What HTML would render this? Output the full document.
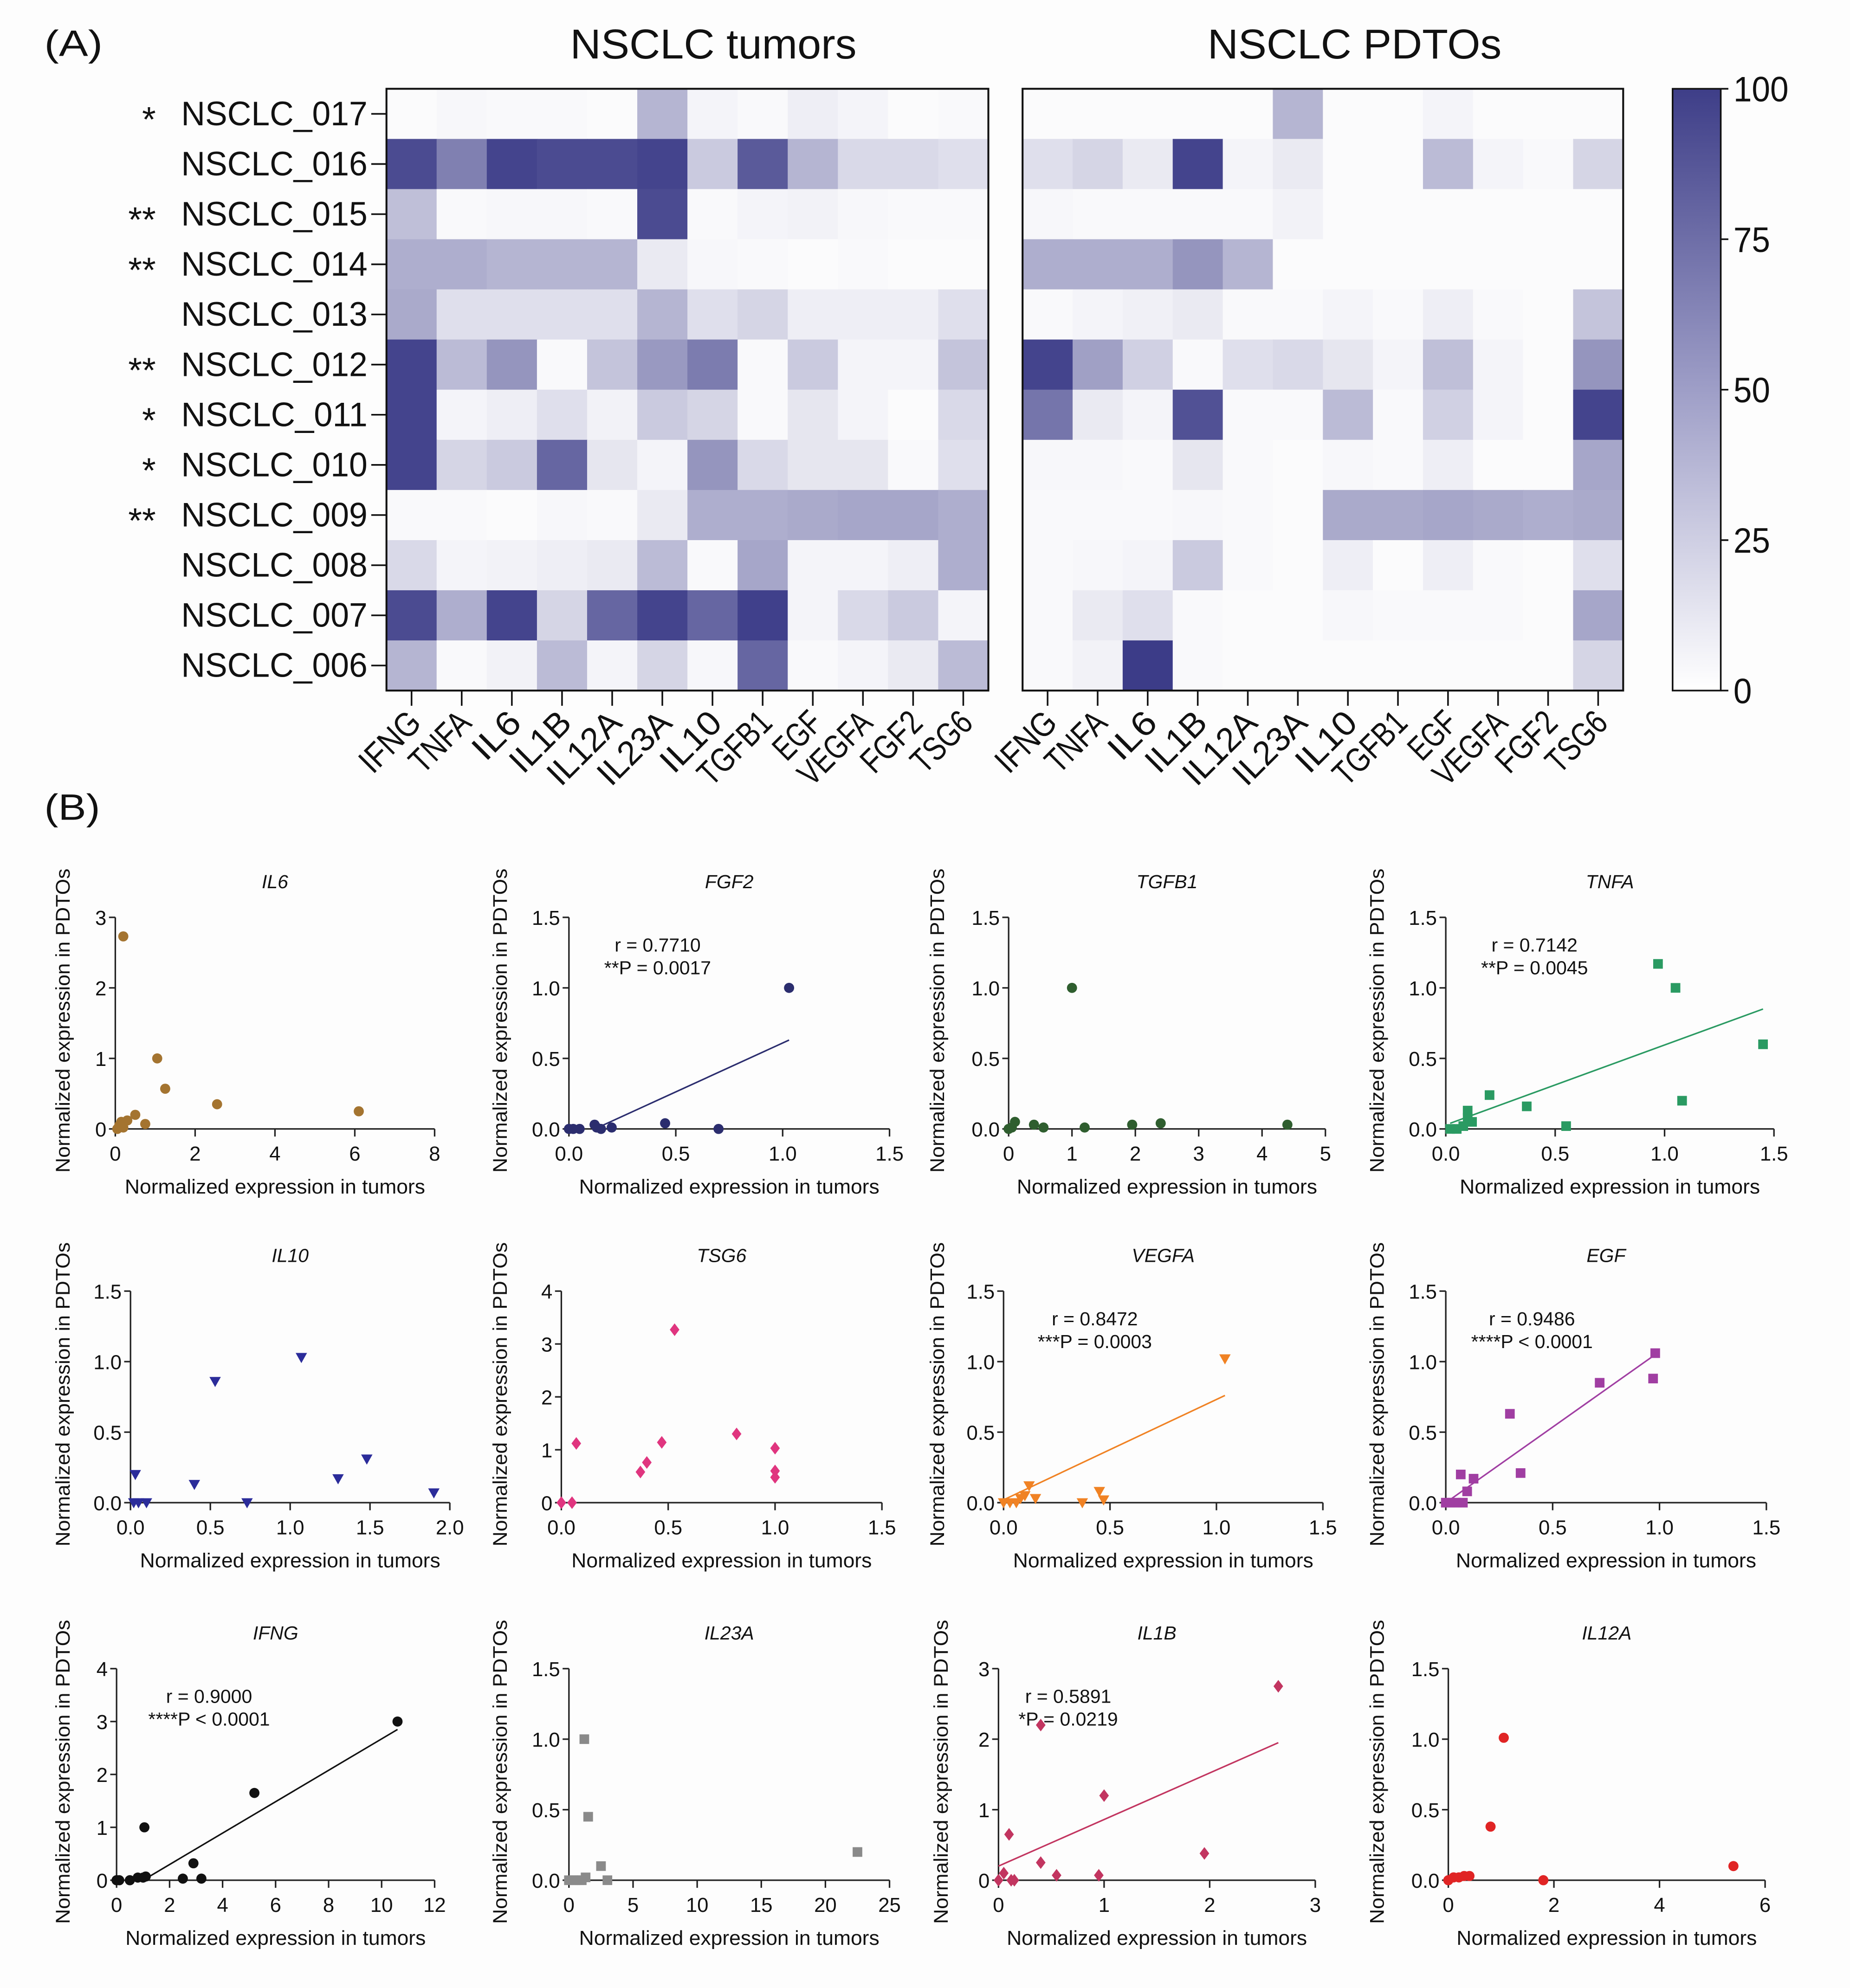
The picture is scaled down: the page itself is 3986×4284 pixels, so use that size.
<!DOCTYPE html>
<html><head><meta charset="utf-8">
<style>
html,body{margin:0;padding:0;background:#fff;}
svg{display:block;}
text{font-family:"Liberation Sans",sans-serif;fill:#111;}
</style></head>
<body>
<svg id="fig" xmlns="http://www.w3.org/2000/svg" width="3986" height="4284" viewBox="0 0 1460 1569">
<rect x="0" y="0" width="1460" height="1569" fill="#fdfdfd"/>
<text x="35" y="44" font-size="29" textLength="46" lengthAdjust="spacingAndGlyphs">(A)</text>
<text x="563" y="46" font-size="33" text-anchor="middle" textLength="226" lengthAdjust="spacingAndGlyphs">NSCLC tumors</text>
<text x="1069" y="46" font-size="33" text-anchor="middle" textLength="232" lengthAdjust="spacingAndGlyphs">NSCLC PDTOs</text>
<text x="35" y="647" font-size="29" textLength="44" lengthAdjust="spacingAndGlyphs">(B)</text>
<defs><linearGradient id="cbg" x1="0" y1="1" x2="0" y2="0"><stop offset="0" stop-color="#ffffff"/><stop offset="0.5" stop-color="#9e9ec7"/><stop offset="1" stop-color="#3e3e88"/></linearGradient></defs>
<g id="hm"></g>
<g id="sc"></g>
</svg>
<script>
const rows=["NSCLC_017","NSCLC_016","NSCLC_015","NSCLC_014","NSCLC_013","NSCLC_012","NSCLC_011","NSCLC_010","NSCLC_009","NSCLC_008","NSCLC_007","NSCLC_006"];
const stars=["*","","**","**","","**","*","*","**","","",""];
const cols=["IFNG","TNFA","IL6","IL1B","IL12A","IL23A","IL10","TGFB1","EGF","VEGFA","FGF2","TSG6"];
const tumorVals=[
[2,4,3,3,2,35,5,3,8,5,2,3],
[85,60,88,85,85,88,25,78,35,18,18,15],
[30,3,4,4,3,85,3,5,6,4,3,3],
[38,38,35,35,35,10,4,3,2,3,2,2],
[40,15,15,15,15,35,15,20,8,8,8,15],
[88,32,50,3,28,48,62,3,25,5,5,28],
[88,5,8,15,6,25,20,3,12,5,2,18],
[88,20,25,72,12,5,50,18,12,12,3,15],
[3,3,2,4,3,10,38,38,40,42,42,38],
[18,5,6,8,10,32,3,42,5,5,8,38],
[85,38,88,20,72,88,72,90,5,18,25,5],
[35,3,6,32,5,20,4,72,3,5,10,32]];
const pdtoVals=[
[2,2,2,2,2,35,2,2,5,2,2,2],
[15,20,10,88,5,10,2,2,32,5,3,20],
[4,3,3,3,3,6,2,2,2,2,2,2],
[38,38,38,50,35,2,2,2,2,2,2,2],
[3,5,7,10,3,3,5,3,8,3,2,28],
[88,45,22,3,15,18,12,5,30,5,2,50],
[65,10,5,82,3,3,32,3,22,5,2,88],
[4,4,3,12,3,2,4,3,8,2,2,42],
[3,3,3,4,3,2,40,40,42,40,38,40],
[3,4,5,25,3,2,8,2,8,3,2,15],
[3,10,15,3,2,2,4,3,3,3,2,42],
[3,6,95,3,2,2,2,2,2,2,2,20]];
const cbTicks=[0,25,50,75,100];

/* scatter data */
const il6X=[0.05,0.1,0.15,0.2,0.3,0.5,0.75,1.05,1.25,2.55,6.1,0.2];
const il6Y=[0,0.05,0.1,0.02,0.12,0.2,0.07,1.0,0.57,0.35,0.25,2.73];
const fgf2X=[0,0.02,0.05,0.12,0.13,0.15,0.2,0.45,0.7,1.03];
const fgf2Y=[0,0,0,0.03,0.01,0,0.01,0.04,0,1.0];
const fgf2Fit=[0.15,0.02,1.03,0.63];
const tgfb1X=[0,0.05,0.1,0.4,0.55,1.0,1.2,1.95,2.4,4.4];
const tgfb1Y=[0,0.01,0.05,0.03,0.01,1.0,0.01,0.03,0.04,0.03];
const tnfaX=[0.02,0.05,0.08,0.1,0.1,0.12,0.2,0.37,0.55,0.97,1.05,1.08,1.45];
const tnfaY=[0,0,0.02,0.13,0.08,0.05,0.24,0.16,0.02,1.17,1.0,0.2,0.6];
const tnfaFit=[0.02,0.04,1.45,0.85];
const il10X=[0.03,0.02,0.05,0.1,0.4,0.53,0.73,1.07,1.3,1.48,1.9];
const il10Y=[0.2,0,0,0,0.13,0.86,0,1.03,0.17,0.31,0.07];
const tsg6X=[0,0.05,0.07,0.37,0.4,0.47,0.53,0.82,1.0,1.0,1.0];
const tsg6Y=[0,0,1.12,0.58,0.76,1.14,3.27,1.3,1.03,0.6,0.48];
const vegfaX=[0,0.03,0.06,0.08,0.1,0.12,0.15,0.37,0.45,0.47,1.04];
const vegfaY=[0,0,0,0.03,0.05,0.12,0.03,0,0.08,0.02,1.02];
const vegfaFit=[0,0.02,1.04,0.76];
const egfX=[0,0.02,0.05,0.07,0.08,0.1,0.13,0.3,0.35,0.72,0.97,0.98];
const egfY=[0,0,0,0.2,0,0.08,0.17,0.63,0.21,0.85,0.88,1.06];
const egfFit=[0,0,0.98,1.05];
const ifngX=[0,0.1,0.5,0.8,1.0,1.1,1.05,2.5,2.9,3.2,5.2,10.6];
const ifngY=[0,0,0,0.05,0.05,0.07,1.0,0.03,0.32,0.03,1.65,3.0];
const ifngFit=[1.0,0.0,10.6,2.85];
const il23aX=[0,0.3,0.5,0.8,1.0,1.2,1.5,2.5,3.0,22.5,1.3];
const il23aY=[0,0,0,0,0,1.0,0.45,0.1,0,0.2,0.02];
const il1bX=[0,0.05,0.1,0.12,0.15,0.4,0.4,0.55,1.0,0.95,1.95,2.65];
const il1bY=[0,0.1,0.65,0,0,0.25,2.2,0.07,1.2,0.07,0.38,2.75];
const il1bFit=[0,0.2,2.65,1.95];
const il12aX=[0,0.1,0.2,0.3,0.4,0.8,1.05,1.8,5.4];
const il12aY=[0,0.02,0.02,0.03,0.03,0.38,1.01,0,0.1];
const il6XT=[0,2,4,6,8], il6YT=[0,1,2,3];
const t15=[0,0.5,1.0,1.5], t15L=["0.0","0.5","1.0","1.5"];
const tgfXT=[0,1,2,3,4,5];
const il10XT=[0,0.5,1.0,1.5,2.0], il10XL=["0.0","0.5","1.0","1.5","2.0"];
const y04=[0,1,2,3,4];
const ifngXT=[0,2,4,6,8,10,12];
const il23XT=[0,5,10,15,20,25];
const y03=[0,1,2,3];
const il12XT=[0,2,4,6];

const NS="http://www.w3.org/2000/svg";
function mk(tag,attrs,parent){const e=document.createElementNS(NS,tag);for(const k in attrs)e.setAttribute(k,attrs[k]);parent.appendChild(e);return e;}
function col(v){const t=Math.min(1,Math.max(0,v)/92);const r=Math.round(255+(60-255)*t),g=Math.round(255+(60-255)*t),b=Math.round(255+(136-255)*t);return `rgb(${r},${g},${b})`;}

const hm=document.getElementById('hm');
const hy0=70,hy1=545,ch=(hy1-hy0)/12;
function heat(x0,x1,vals,name,withRows){
  const g=mk('g',{},hm);
  
  
  const cw=(x1-x0)/12;
  vals.forEach((row,i)=>row.forEach((v,j)=>{
    const r=mk('rect',{x:x0+j*cw,y:hy0+i*ch,width:cw+0.5,height:ch+0.5,fill:col(v)},g);
    
    
  }));
  const fr=mk('rect',{x:x0,y:hy0,width:x1-x0,height:hy1-hy0,fill:'none',stroke:'#111','stroke-width':1.5},g);
  
  
  cols.forEach((c,j)=>{
    const cx=x0+(j+0.5)*cw;
    mk('line',{x1:cx,y1:hy1,x2:cx,y2:hy1+12,stroke:'#111','stroke-width':1.3},g);
    const t=mk('text',{x:0,y:0,'font-size':27,'text-anchor':'end',transform:`translate(${cx+9},${hy1+27}) rotate(-45)`},g);
    t.textContent=c;
    t.setAttribute('textLength',c.length*14);
    t.setAttribute('lengthAdjust','spacingAndGlyphs');
    
    
  });
  if(withRows){
    rows.forEach((rn,i)=>{
      const cy=hy0+(i+0.5)*ch;
      mk('line',{x1:x0-12,y1:cy,x2:x0,y2:cy,stroke:'#111','stroke-width':1.3},g);
      const t=mk('text',{x:x0-15,y:cy+9,'font-size':27,'text-anchor':'end',textLength:147,lengthAdjust:'spacingAndGlyphs'},g);
      t.textContent=rn;
      
      
      if(stars[i]){const s=mk('text',{x:123,y:cy+14,'font-size':28,'text-anchor':'end'},g);
        s.textContent=stars[i];
        
        }
    });
  }
}
heat(305,780,tumorVals,'tumors-heatmap',true);
heat(807,1281,pdtoVals,'pdtos-heatmap',false);
const cb=mk('g',{},hm);


mk('rect',{x:1320,y:hy0,width:38,height:hy1-hy0,fill:'url(#cbg)',stroke:'#111','stroke-width':1.3},cb);
cbTicks.forEach(v=>{const y=hy1-(v/100)*(hy1-hy0);
  mk('line',{x1:1358,y1:y,x2:1364,y2:y,stroke:'#111','stroke-width':1.3},cb);
  const t=mk('text',{x:1368,y:y+10,'font-size':28},cb);t.textContent=v;
  t.setAttribute('textLength',String(v).length*14.5);
  t.setAttribute('lengthAdjust','spacingAndGlyphs');
  
  });

const sc=document.getElementById('sc');
function shape(g,kind,x,y,c){
  let e;
  if(kind==='circle')e=mk('circle',{cx:x,cy:y,r:4,fill:c},g);
  else if(kind==='square')e=mk('rect',{x:x-3.8,y:y-3.8,width:7.6,height:7.6,fill:c},g);
  else if(kind==='tri')e=mk('polygon',{points:`${x-4.5},${y-3.5} ${x+4.5},${y-3.5} ${x},${y+4.5}`,fill:c},g);
  else e=mk('polygon',{points:`${x},${y-5} ${x+3.8},${y} ${x},${y+5} ${x-3.8},${y}`,fill:c},g);
  
  
}
function panel(p){
  const g=mk('g',{},sc);
  
  
  const sx=v=>p.x0+(v-p.xt[0])/(p.xt[p.xt.length-1]-p.xt[0])*(p.x1-p.x0);
  const sy=v=>p.yb-(v-p.yt[0])/(p.yt[p.yt.length-1]-p.yt[0])*(p.yb-p.ytop);
  mk('line',{x1:p.x0,y1:p.ytop,x2:p.x0,y2:p.yb,stroke:'#222','stroke-width':1.2},g);
  mk('line',{x1:p.x0,y1:p.yb,x2:p.x1,y2:p.yb,stroke:'#222','stroke-width':1.2},g);
  p.xt.forEach((v,i)=>{const x=sx(v);mk('line',{x1:x,y1:p.yb,x2:x,y2:p.yb+6,stroke:'#222','stroke-width':1.2},g);
    const t=mk('text',{x:x,y:p.yb+25,'font-size':16,'text-anchor':'middle'},g);t.textContent=p.xl?p.xl[i]:v;
    
    });
  p.yt.forEach((v,i)=>{const y=sy(v);mk('line',{x1:p.x0-5,y1:y,x2:p.x0,y2:y,stroke:'#222','stroke-width':1.2},g);
    const t=mk('text',{x:p.x0-7,y:y+6,'font-size':16,'text-anchor':'end'},g);t.textContent=p.yl?p.yl[i]:v;
    
    });
  const tt=mk('text',{x:(p.x0+p.x1)/2,y:p.ytop-23,'font-size':15,'font-style':'italic','text-anchor':'middle'},g);tt.textContent=p.title;
  
  
  const xl=mk('text',{x:(p.x0+p.x1)/2,y:p.yb+51,'font-size':16,'text-anchor':'middle',textLength:237,lengthAdjust:'spacingAndGlyphs'},g);xl.textContent='Normalized expression in tumors';
  
  
  const ym=(p.ytop+p.yb)/2-2;
  const yl=mk('text',{x:0,y:0,'font-size':15.5,'text-anchor':'middle',textLength:240,lengthAdjust:'spacingAndGlyphs',transform:`translate(${p.ylx+5},${ym}) rotate(-90)`},g);yl.textContent='Normalized expression in PDTOs';
  
  
  if(p.fit){const l=mk('line',{x1:sx(p.fit[0]),y1:sy(p.fit[1]),x2:sx(p.fit[2]),y2:sy(p.fit[3]),stroke:p.c,'stroke-width':1.2},g);
    
    }
  if(p.stat){p.stat.forEach((s,i)=>{const t=mk('text',{x:p.x0+p.statDx,y:p.ytop+27+i*18,'font-size':15,'text-anchor':'middle'},g);t.textContent=s;
    
    });}
  p.X.forEach((v,i)=>shape(g,p.m,sx(v),sy(p.Y[i]),p.c));
}
const R1=[724,891],R2=[1019,1186],R3=[1317,1484];
panel({name:'il6-scatter',title:'IL6',ylx:50,x0:91,x1:343,ytop:R1[0],yb:R1[1],xt:il6XT,yt:il6YT,X:il6X,Y:il6Y,m:'circle',c:'#a47430'});
panel({name:'fgf2-scatter',title:'FGF2',ylx:395,x0:449,x1:702,ytop:R1[0],yb:R1[1],xt:t15,xl:t15L,yt:t15,yl:t15L,X:fgf2X,Y:fgf2Y,m:'circle',c:'#2b2d6e',fit:fgf2Fit,stat:['r = 0.7710','**P = 0.0017'],statDx:70});
panel({name:'tgfb1-scatter',title:'TGFB1',ylx:740,x0:796,x1:1046,ytop:R1[0],yb:R1[1],xt:tgfXT,yt:t15,yl:t15L,X:tgfb1X,Y:tgfb1Y,m:'circle',c:'#2f5e2f'});
panel({name:'tnfa-scatter',title:'TNFA',ylx:1087,x0:1141,x1:1400,ytop:R1[0],yb:R1[1],xt:t15,xl:t15L,yt:t15,yl:t15L,X:tnfaX,Y:tnfaY,m:'square',c:'#2a9a62',fit:tnfaFit,stat:['r = 0.7142','**P = 0.0045'],statDx:70});
panel({name:'il10-scatter',title:'IL10',ylx:50,x0:103,x1:355,ytop:R2[0],yb:R2[1],xt:il10XT,xl:il10XL,yt:t15,yl:t15L,X:il10X,Y:il10Y,m:'tri',c:'#2b2c9a'});
panel({name:'tsg6-scatter',title:'TSG6',ylx:395,x0:443,x1:696,ytop:R2[0],yb:R2[1],xt:t15,xl:t15L,yt:y04,X:tsg6X,Y:tsg6Y,m:'diamond',c:'#e0357f'});
panel({name:'vegfa-scatter',title:'VEGFA',ylx:740,x0:792,x1:1044,ytop:R2[0],yb:R2[1],xt:t15,xl:t15L,yt:t15,yl:t15L,X:vegfaX,Y:vegfaY,m:'tri',c:'#f08224',fit:vegfaFit,stat:['r = 0.8472','***P = 0.0003'],statDx:72});
panel({name:'egf-scatter',title:'EGF',ylx:1087,x0:1141,x1:1394,ytop:R2[0],yb:R2[1],xt:t15,xl:t15L,yt:t15,yl:t15L,X:egfX,Y:egfY,m:'square',c:'#a03ea2',fit:egfFit,stat:['r = 0.9486','****P < 0.0001'],statDx:68});
panel({name:'ifng-scatter',title:'IFNG',ylx:50,x0:92,x1:343,ytop:R3[0],yb:R3[1],xt:ifngXT,yt:y04,X:ifngX,Y:ifngY,m:'circle',c:'#111',fit:ifngFit,stat:['r = 0.9000','****P < 0.0001'],statDx:73});
panel({name:'il23a-scatter',title:'IL23A',ylx:395,x0:449,x1:702,ytop:R3[0],yb:R3[1],xt:il23XT,yt:t15,yl:t15L,X:il23aX,Y:il23aY,m:'square',c:'#8a8a8a'});
panel({name:'il1b-scatter',title:'IL1B',ylx:743,x0:788,x1:1038,ytop:R3[0],yb:R3[1],xt:y03,yt:y03,X:il1bX,Y:il1bY,m:'diamond',c:'#c23560',fit:il1bFit,stat:['r = 0.5891','*P = 0.0219'],statDx:55});
panel({name:'il12a-scatter',title:'IL12A',ylx:1087,x0:1143,x1:1393,ytop:R3[0],yb:R3[1],xt:il12XT,yt:t15,yl:t15L,X:il12aX,Y:il12aY,m:'circle',c:'#e02424'});
</script>
</body></html>
